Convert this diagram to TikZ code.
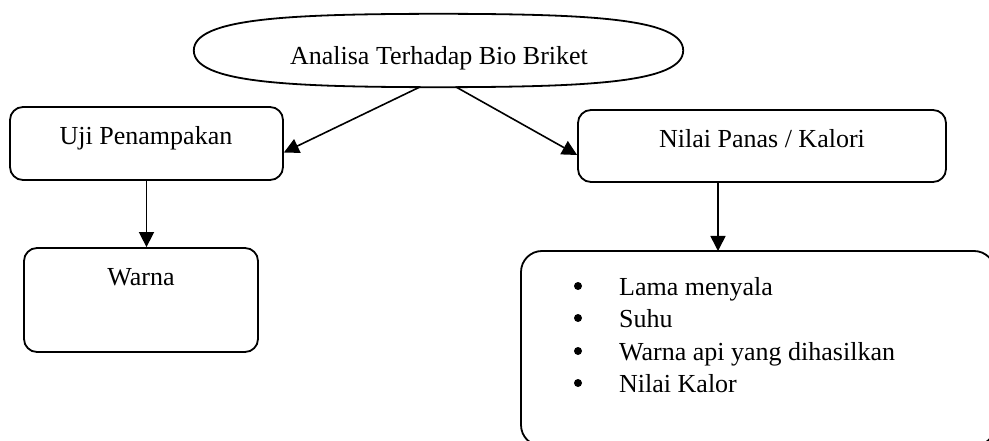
\documentclass[tikz,border=0pt]{standalone}
\usepackage{fontspec}
\setmainfont{Liberation Serif}
\usetikzlibrary{shapes.geometric,arrows.meta,calc}
\begin{document}
\begin{tikzpicture}[x=1pt,y=-1pt,
  box/.style={draw,line width=1.8pt,rounded corners=13pt,inner sep=0pt},
  txt/.style={inner sep=0pt,anchor=base,font=\fontsize{26}{32}\selectfont},
  dot/.style={circle,fill,inner sep=0pt,minimum size=8pt},
  arr/.style={line width=1.6pt,-{Triangle[length=15pt,width=15pt]}}]
\useasboundingbox (0,0) rectangle (989,441);
\node[minimum width=489pt,minimum height=73pt,inner sep=0pt] (ell) at (438.5,50.5) {};
\draw[line width=1.8pt] (ell.west)
  .. controls (194,18) and (290,14) .. (ell.north)
  .. controls (587,14) and (683,18) .. (ell.east)
  .. controls (683,83) and (587,87) .. (ell.south)
  .. controls (290,87) and (194,83) .. (ell.west) -- cycle;
\node[box,minimum width=273pt,minimum height=73pt] (uji) at (146.5,143.5) {};
\node[box,minimum width=368pt,minimum height=72pt] (nilai) at (762,146) {};
\node[box,minimum width=234pt,minimum height=104pt] (warna) at (141,300) {};
\begin{scope}
\clip (0,0) rectangle (989,441);
\node[box,rounded corners=21pt,minimum width=474pt,minimum height=195pt] (list) at (758,348.5) {};
\end{scope}
\node[txt] (t0) at (439,65) {Analisa Terhadap Bio Briket};
\node[txt] (t1) at (146,145) {Uji Penampakan};
\node[txt] (t2) at (762,148) {Nilai Panas / Kalori};
\node[txt] (t3) at (141,285) {Warna};
\node[dot] (b1) at (578,286) {};
\node[dot] (b2) at (578,318) {};
\node[dot] (b3) at (578,351) {};
\node[dot] (b4) at (578,383) {};
\node[txt,anchor=base west] (l1) at (619,295) {Lama menyala};
\node[txt,anchor=base west] (l2) at (619,327) {Suhu};
\node[txt,anchor=base west] (l3) at (619,360) {Warna api yang dihasilkan};
\node[txt,anchor=base west] (l4) at (619,392) {Nilai Kalor};
\draw[arr] ($(ell.south)+(-18,-0.5)$) -- ($(uji.east)+(0,9)$);
\draw[arr] ($(ell.south)+(17,-0.5)$) -- ($(nilai.west)+(0,9)$);
\draw[arr] (uji.south) -- (uji.south |- warna.north);
\draw[arr] (nilai.south -| 718,0) -- (718,251);
\end{tikzpicture}
\end{document}
